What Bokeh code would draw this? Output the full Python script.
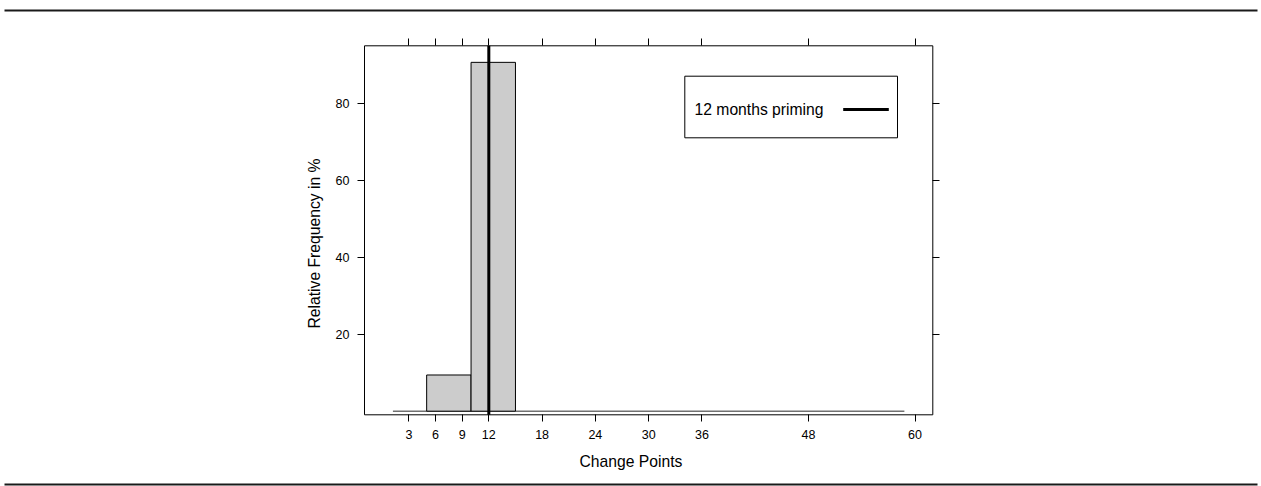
from bokeh.plotting import figure
from bokeh.models import (Range1d, LinearAxis, FixedTicker, BoxAnnotation,
                          Label, ColumnDataSource)
from bokeh.embed import file_html
from bokeh.resources import INLINE

# ---- data ----
bin_left = [5, 10]
bin_right = [10, 15]
rel_freq = [9.4, 90.6]          # Relative Frequency in %
baseline_x = [1.2, 58.8]        # extent of the zero baseline of the histogram
priming_month = 12
x_ticks = [3, 6, 9, 12, 18, 24, 30, 36, 48, 60]
y_ticks = [20, 40, 60, 80]
x_lim = (-2, 62)
y_lim = (-0.94, 94.9)
legend_label = "12 months priming"
x_title = "Change Points"
y_title = "Relative Frequency in %"

# ---- layout (pixels) ----
FONT = "Liberation Sans"
W, H = 1261, 486
BOX_L, BOX_R, BOX_T, BOX_B = 364.0, 932.3, 45.3, 414.3

sx = (BOX_R - BOX_L) / (x_lim[1] - x_lim[0])
sy = (BOX_B - BOX_T) / (y_lim[1] - y_lim[0])
xr = Range1d(x_lim[0] - BOX_L / sx, x_lim[1] + (W - BOX_R) / sx)
yr_ = Range1d(y_lim[0] - (H - BOX_B) / sy, y_lim[1] + BOX_T / sy)

p = figure(width=W, height=H, output_backend="svg", toolbar_location=None,
           x_range=xr, y_range=yr_,
           x_axis_location=None, y_axis_location=None,
           min_border=0, min_border_left=0, min_border_right=0,
           min_border_top=0, min_border_bottom=0)
p.grid.visible = False
p.outline_line_color = None
p.background_fill_color = "white"
p.border_fill_color = "white"


def make_axis(ticks, loc, labels=True, title=None):
    ax = LinearAxis(ticker=FixedTicker(ticks=ticks), fixed_location=loc)
    if title:
        ax.axis_label = title
    ax.axis_line_color = None
    ax.major_tick_in = 0
    ax.major_tick_out = 7
    ax.major_tick_line_color = "black"
    ax.minor_tick_line_color = None
    ax.major_label_text_font = FONT
    ax.major_label_text_font_size = "12.5px"
    ax.major_label_text_color = "black"
    ax.major_label_standoff = 8
    ax.axis_label_text_font = FONT
    ax.axis_label_text_font_size = "15.7px"
    ax.axis_label_text_font_style = "normal"
    ax.axis_label_text_color = "black"
    if not labels:
        ax.major_label_overrides = {t: "" for t in ticks}
    return ax


xb = make_axis(x_ticks, y_lim[0], title=x_title)
xb.axis_label_standoff = 11
xt = make_axis(x_ticks, y_lim[1], labels=False)
yl = make_axis(y_ticks, x_lim[0], title=y_title)
yl.axis_label_standoff = 10
yr = make_axis(y_ticks, x_lim[1], labels=False)
p.add_layout(xb, "below")
p.add_layout(xt, "above")
p.add_layout(yl, "left")
p.add_layout(yr, "right")

# panel box
p.add_layout(BoxAnnotation(left=x_lim[0], right=x_lim[1], bottom=y_lim[0], top=y_lim[1],
                           fill_alpha=0, line_color="black", line_width=1, line_alpha=1.0,
                           level="underlay"))

# histogram bars
src = ColumnDataSource(dict(left=bin_left, right=bin_right, top=rel_freq,
                            bottom=[0] * len(rel_freq)))
p.segment(x0=baseline_x[0], y0=0, x1=baseline_x[1], y1=0,
          line_color="#707070", line_width=1.5)
p.quad(left="left", right="right", top="top", bottom="bottom", source=src,
       fill_color="#cccccc", line_color="black", line_width=1)

# priming reference line
p.segment(x0=priming_month, y0=y_lim[0], x1=priming_month, y1=y_lim[1],
          line_color="black", line_width=3)


def screen_box(l, r, t, b, **kw):
    # l, r, t, b in page pixels (from top-left)
    return BoxAnnotation(left=l, right=r, top=H - t, bottom=H - b,
                         left_units="screen", right_units="screen",
                         top_units="screen", bottom_units="screen", **kw)


# legend (text left, line right)
p.add_layout(screen_box(684.3, 897, 75.7, 137.3, fill_color="white", fill_alpha=1.0,
                        line_color="black", line_width=1, line_alpha=1.0))
p.add_layout(Label(x=694, y=H - 109, x_units="screen", y_units="screen",
                   text=legend_label, text_font=FONT, text_font_size="15.7px",
                   text_color="black", text_baseline="middle", text_align="left"))
p.add_layout(screen_box(842.7, 888.3, 107.5, 110.5, fill_color="black",
                        fill_alpha=1.0, line_color=None))

# horizontal page rules above and below the panel
for t_px, b_px in [(9, 11), (483, 485)]:
    p.add_layout(screen_box(4, 1257, t_px, b_px, fill_color="#1a1a1a",
                            fill_alpha=1.0, line_color=None))

open("out.html", "w").write(file_html(p, INLINE))
